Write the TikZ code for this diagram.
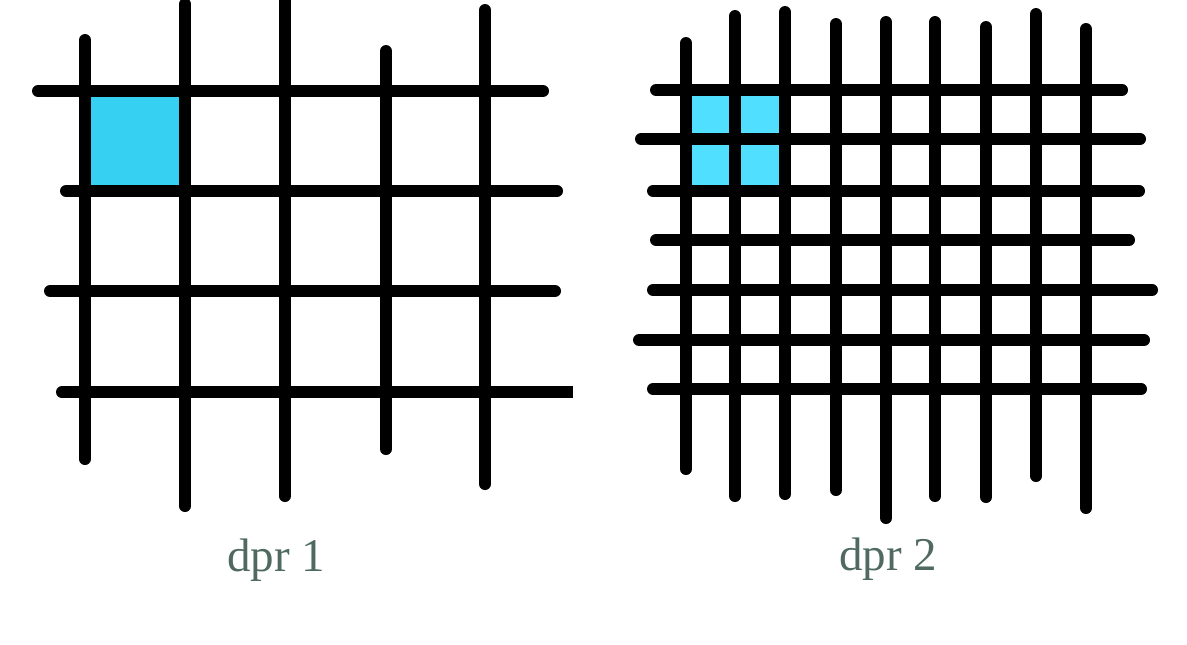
\documentclass[tikz,border=0pt]{standalone}
\usepackage{fontspec}
\setmainfont{Liberation Serif}
\usepackage{xcolor}
\definecolor{cellblue}{RGB}{54, 208, 242}
\definecolor{cellbluehi}{RGB}{80, 223, 255}
\definecolor{dprgray}{RGB}{80, 106, 98}
\tikzset{gridline/.style={line width=6pt,line cap=round}}
\tikzset{dprlabel/.style={anchor=base,text=dprgray,font=\fontsize{23.5}{28}\selectfont}}

\begin{document}
\begin{tikzpicture}[x=0.5pt,y=-0.5pt]
\useasboundingbox (0,0) rectangle (1187,644);
% dpr 1: one device pixel per css pixel
\fill[cellblue] (85,91) rectangle (186,191);
\draw[gridline] (38,91) -- (543,91);
\draw[gridline] (66,191) -- (557,191);
\draw[gridline] (50,291) -- (555,291);
\draw[line width=6pt] (62,392) -- (573,392);
\fill (62,392) circle (6);
\draw[gridline] (85,40) -- (85,459);
\draw[gridline] (185,4) -- (185,506);
\draw[gridline] (285,1) -- (285,496);
\draw[gridline] (386,51) -- (386,449);
\draw[gridline] (485,10) -- (485,484);
\node[dprlabel] (lbl1) at (276,571) {dpr 1};
% dpr 2: four device pixels per css pixel
\fill[cellbluehi] (686,90) rectangle (785,191);
\draw[gridline] (656,90) -- (1122,90);
\draw[gridline] (641,139) -- (1140,139);
\draw[gridline] (653,191) -- (1139,191);
\draw[gridline] (656,240) -- (1129,240);
\draw[gridline] (653,290) -- (1152,290);
\draw[gridline] (639,340) -- (1144,340);
\draw[gridline] (653,389) -- (1141,389);
\draw[gridline] (686,43) -- (686,469);
\draw[gridline] (735,16) -- (735,496);
\draw[gridline] (785,12) -- (785,494);
\draw[gridline] (836,24) -- (836,490);
\draw[gridline] (886,22) -- (886,518);
\draw[gridline] (935,22) -- (935,496);
\draw[gridline] (986,27) -- (986,497);
\draw[gridline] (1036,14) -- (1036,476);
\draw[gridline] (1086,29) -- (1086,508);
\node[dprlabel] (lbl2) at (888,570) {dpr 2};
\end{tikzpicture}
\end{document}
